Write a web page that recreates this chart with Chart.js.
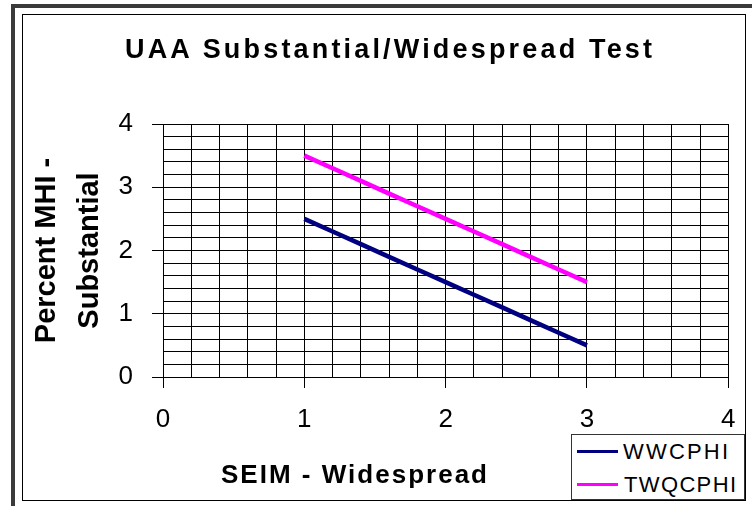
<!DOCTYPE html>
<html><head><meta charset="utf-8">
<script src="https://cdn.jsdelivr.net/npm/chart.js@4.4.1/dist/chart.umd.min.js"></script>
<style>
html,body{margin:0;padding:0;background:#fff;}
#wrap{position:relative;width:752px;height:506px;overflow:hidden;background:#fff;}
#c{position:absolute;left:0;top:0;}
.t{position:absolute;white-space:nowrap;font-family:"Liberation Sans",Arial,sans-serif;color:#000;line-height:1;}
.b{font-weight:bold;}
</style></head><body>
<div id="wrap">
  <div style="position:absolute;left:11px;top:4px;width:800px;height:4px;background:#3a3a3a"></div>
  <div style="position:absolute;left:11px;top:4px;width:4px;height:600px;background:#3a3a3a"></div>
  <div style="position:absolute;left:22px;top:14px;width:722px;height:485px;border:1px solid #000"></div>
  <canvas id="c" width="752" height="506"></canvas>
  <div id="title" class="t b" style="left:125px;top:36px;font-size:27px">UAA Substantial/Widespread Test</div>
  <div id="xtitle" class="t b" style="left:221px;top:461px;font-size:26px">SEIM - Widespread</div>
  <div style="position:absolute;left:571px;top:434px;width:172px;height:64px;border:1px solid #333;background:#fff"></div>
  <div style="position:absolute;left:577px;top:450px;width:41px;height:3px;background:#000080"></div>
  <div style="position:absolute;left:577px;top:483px;width:41px;height:3px;background:#FF00FF"></div>
  <div id="leg1" class="t" style="left:623px;top:440.5px;font-size:22px">WWCPHI</div>
  <div id="leg2" class="t" style="left:624px;top:473.5px;font-size:22px">TWQCPHI</div>
</div>
<script>
// ---- data ----
const seriesNames = ['WWCPHI', 'TWQCPHI'];
const xValues = [1.0, 1.2, 1.4, 1.6, 1.8, 2.0, 2.2, 2.4, 2.6, 2.8, 3.0];
const wwcphi  = [2.5, 2.3, 2.1, 1.9, 1.7, 1.5, 1.3, 1.1, 0.9, 0.7, 0.5];
const twqcphi = [3.5, 3.3, 3.1, 2.9, 2.7, 2.5, 2.3, 2.1, 1.9, 1.7, 1.5];
const xTickLabels = [0, 1, 2, 3, 4];
const yTickLabels = [0, 1, 2, 3, 4];

function fit(id, target){
  const el = document.getElementById(id);
  const cs = getComputedStyle(el);
  const c = document.createElement('canvas').getContext('2d');
  c.font = cs.fontWeight + ' ' + cs.fontSize + ' ' + cs.fontFamily;
  const txt = el.textContent;
  const w = c.measureText(txt).width;
  el.style.letterSpacing = ((target - w) / (txt.length - 1)) + 'px';
}
fit('title', 528);
fit('xtitle', 266);
fit('leg1', 105);
fit('leg2', 112);

const isMajor = (v, list) => list.some(t => Math.abs(t - v) < 1e-6);

Chart.defaults.font.family = '"Liberation Sans", Arial, sans-serif';
Chart.defaults.color = '#000';

new Chart(document.getElementById('c'), {
  type: 'line',
  data: {
    datasets: [
      { label: seriesNames[0], data: xValues.map((x, i) => ({x, y: wwcphi[i]})),
        borderColor: '#000080', borderWidth: 4.5, pointRadius: 0, tension: 0, fill: false },
      { label: seriesNames[1], data: xValues.map((x, i) => ({x, y: twqcphi[i]})),
        borderColor: '#FF00FF', borderWidth: 4.5, pointRadius: 0, tension: 0, fill: false }
    ]
  },
  options: {
    responsive: false,
    animation: false,
    layout: { padding: { left: 0, top: 124, right: 15, bottom: 69 } },
    plugins: { legend: { display: false }, title: { display: false }, tooltip: { enabled: false } },
    scales: {
      x: {
        type: 'linear', min: 0, max: 4,
        afterFit: s => { s.height = 60; },
        border: { color: '#000', width: 1 },
        grid: {
          color: '#000', lineWidth: 1, tickLength: 11,
          tickColor: c => isMajor(c.tick.value, xTickLabels) ? '#000' : 'rgba(0,0,0,0)'
        },
        ticks: {
          stepSize: 0.2, autoSkip: false, maxRotation: 0, padding: 16.5,
          font: { size: 26 },
          callback: v => isMajor(v, xTickLabels) ? String(Math.round(v)) : ''
        }
      },
      y: {
        type: 'linear', min: 0, max: 4,
        afterFit: s => { s.width = 163; },
        border: { color: '#000', width: 1 },
        grid: {
          color: '#000', lineWidth: 1, tickLength: 11,
          tickColor: c => isMajor(c.tick.value, yTickLabels) ? '#000' : 'rgba(0,0,0,0)'
        },
        ticks: {
          stepSize: 0.2, autoSkip: false, padding: 19,
          font: { size: 26 },
          callback: v => isMajor(v, yTickLabels) ? String(Math.round(v)) : ''
        },
        title: {
          display: true, text: ['Percent MHI -', 'Substantial'],
          font: { size: 29, weight: 'bold', lineHeight: 43 / 29 },
          padding: { top: 25.5, bottom: 0 }
        }
      }
    }
  }
});
</script>
</body></html>
